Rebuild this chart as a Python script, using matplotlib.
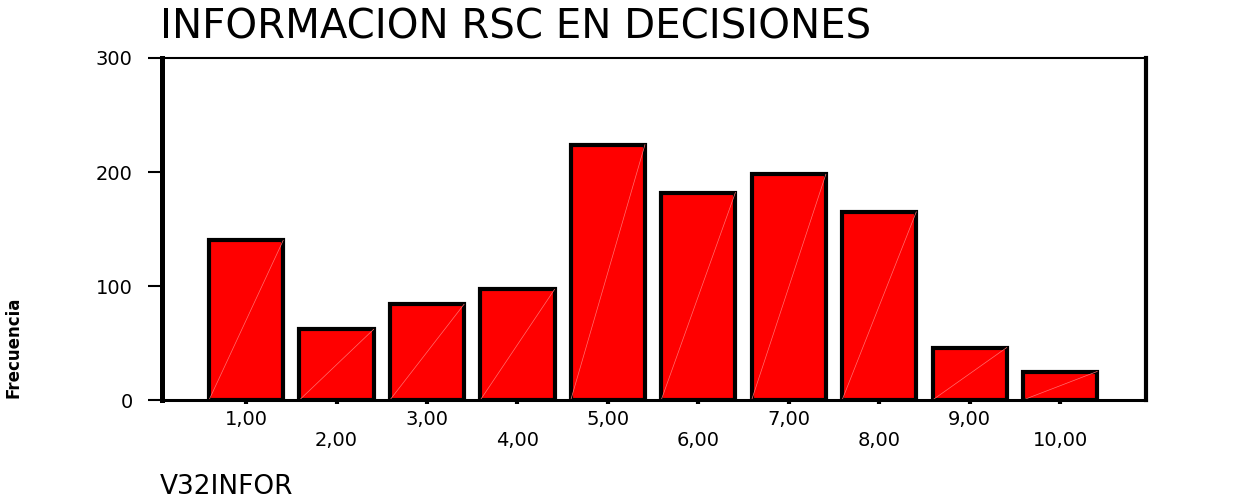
import matplotlib
matplotlib.use("Agg")
import matplotlib.pyplot as plt

categories = [1, 2, 3, 4, 5, 6, 7, 8, 9, 10]
tick_labels = ["1,00", "2,00", "3,00", "4,00", "5,00", "6,00", "7,00", "8,00", "9,00", "10,00"]
frecuencia = [140, 62, 84, 97, 224, 182, 198, 165, 46, 25]
y_ticks = [0, 100, 200, 300]
title = "INFORMACION RSC EN DECISIONES"
xlabel = "V32INFOR"
ylabel = "Frecuencia"

plt.rcParams['font.family'] = ['DejaVu Sans']
fig = plt.figure(figsize=(12.34, 4.98), dpi=100)
ax = fig.add_axes([162/1234, 1-400/498, 984/1234, 342/498])

width = 0.82
bars = ax.bar(categories, frecuencia, width=width, color='#ff0000',
              edgecolor='black', linewidth=3, zorder=2)
for x, v in zip(categories, frecuencia):
    ax.plot([x - width/2, x + width/2], [0, v], color='#ff7070', lw=0.5, zorder=3)

ax.set_xlim(0.07, 10.95)
ax.set_ylim(0, 300)
ax.set_yticks(y_ticks)
ax.set_yticklabels([str(t) for t in y_ticks], fontsize=14)
ax.set_xticks(categories)
ax.set_xticklabels(tick_labels, fontsize=14)
ax.tick_params(axis='y', length=10, width=1.5, pad=11, direction='out')
ax.tick_params(axis='x', length=3, width=3, direction='out')
for i, t in enumerate(ax.xaxis.get_major_ticks()):
    t.set_pad(4 if i % 2 == 0 else 19)

ax.spines['left'].set_linewidth(3.6)
ax.spines['right'].set_linewidth(3)
ax.spines['top'].set_linewidth(1.5)
ax.spines['bottom'].set_linewidth(2.2)
for s in ax.spines.values():
    s.set_zorder(4)

fig.text(160/1234, 1-38/498, title, fontsize=29, ha='left', va='baseline')
fig.text(160/1234, 1-494/498, xlabel, fontsize=19, ha='left', va='baseline')
fig.text(23/1234, 1-398/498, ylabel, fontsize=12, fontweight='bold', rotation=90,
         ha='right', va='bottom')

fig.savefig("out.png", dpi=100)
